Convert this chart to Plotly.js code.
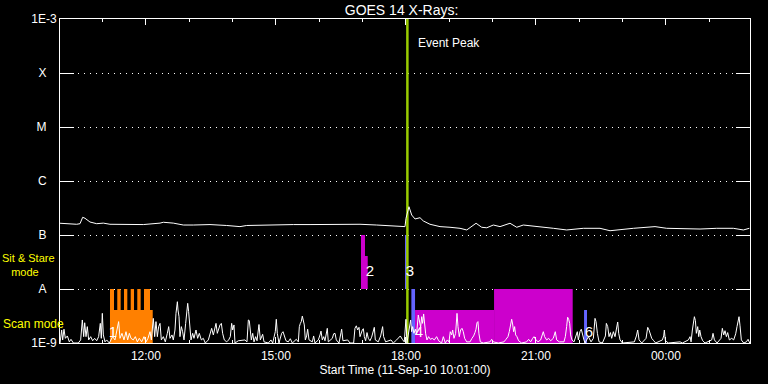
<!DOCTYPE html>
<html>
<head>
<meta charset="utf-8">
<script src="https://cdn.plot.ly/plotly-3.0.1.min.js"></script>
<style>html,body{margin:0;padding:0;background:#000;}#chart{width:768px;height:384px;}</style>
</head>
<body>
<div id="chart"></div>
<script>
// ---- DATA (time = minutes after 2010-09-11 10:01 UT) ----
const goesMin = [0,9.2,23.1,27.7,31.4,34.6,41.5,50.8,60,69.2,92.3,115.4,138.5,143.1,156.9,170.8,184.6,207.7,230.8,249.2,258.5,276.9,300,323.1,346.2,369.2,392.3,415.4,438.5,461.5,477.7,
  479.1,483.2,487,491.6,498.5,503.1,512.3,526.2,540,553.9,563.2,570.1,576.1,583.9,590.9,600,609.3,623.1,632.4,641.5,655.4,669.2,683.1,701.6,724.6,747.7,761.6,793.9,823.9,840.1,863.1,886.2,909.3,932.3,946.2,954.5];
const goesFlux = [1.65e-7,1.62e-7,1.58e-7,1.62e-7,2.13e-7,2.04e-7,1.74e-7,1.62e-7,1.66e-7,1.58e-7,1.58e-7,1.56e-7,1.66e-7,1.72e-7,1.66e-7,1.53e-7,1.53e-7,1.56e-7,1.50e-7,1.43e-7,1.50e-7,1.53e-7,1.56e-7,1.56e-7,1.56e-7,1.58e-7,1.58e-7,1.58e-7,1.53e-7,1.47e-7,1.43e-7,
  2.04e-7,3.34e-7,2.34e-7,1.98e-7,2.09e-7,1.82e-7,1.58e-7,1.43e-7,1.39e-7,1.33e-7,1.24e-7,1.43e-7,1.65e-7,1.39e-7,1.36e-7,1.53e-7,1.43e-7,1.65e-7,1.39e-7,1.53e-7,1.47e-7,1.39e-7,1.33e-7,1.24e-7,1.33e-7,1.33e-7,1.20e-7,1.33e-7,1.43e-7,1.33e-7,1.29e-7,1.29e-7,1.33e-7,1.33e-7,1.24e-7,1.33e-7];

// low-level spiky series, values in units of 1e-9 W/m^2
const lowMin = [0,2.3,3.7,5.5,7.4,10.2,12.9,15.2,18.5,25.4,28.6,30.9,32.8,34.2,36,37.8,39.7,42.5,45.2,48,50.8,53.5,55.8,57.2,58.6,60,62.3,64.6,68.3,72.9,76.1,79.4,81.2,83.1,85.8,88.6,91.4,93.7,96,98.3,101.5,104.3,107.1,109.8,113.1,116.3,119.1,121.8,124.6,126.5,129.2,131.1,132.9,134.8,136.6,138.5,140.3,143.1,145.8,148.6,150.5,152.3,155.1,156.9,159.2,160.6,161.5,162.5,163.4,164.8,166.1,168,169.8,171.7,174,175.4,176.8,178.1,179.5,181.4,183.7,185.5,188.3,190.6,192.9,195.7,198.4,201.2,205.4,207.7,210,212.3,214.6,216,217.8,219.7,221.5,223.4,225.2,227.5,230.8,233.5,235.8,237.7,239.1,240.9,
  242.3,246.9,256.1,258.9,260.8,262.1,263.5,264.9,266.8,268.6,270.9,272.8,275.5,277.4,280.6,282.5,288.5,292.1,294.5,296.8,298.1,299.5,300.9,303.2,306.9,308.8,310.6,312.9,316.1,318.9,321.7,327.2,330,331.4,332.8,334.1,335.5,336.9,338.3,339.7,341.5,342.9,344.8,349.4,351.2,353.1,357.7,360,361.4,363.2,365.1,366.9,370.1,371.5,377.1,378.9,380.8,382.6,386.3,389.1,390,391.8,398.3,401.5,406.6,408.4,410.3,412.1,414,415.4,417.2,418.6,420,421.4,423.2,425.1,426.9,429.2,431.5,433.4,435.2,436.6,440.7,444,445.4,446.7,448.1,450.9,458.3,461.5,466.1,468.9,471.2,474,476.7,479,480.4,
  485.5,486.9,488.3,490.1,492,493.8,496.1,497.5,499.4,500.8,502.1,503.5,504.9,506.3,508.1,510.4,512.8,515.5,518.3,521.5,524.3,528.4,530.8,533.5,536.3,538.6,540.4,542.3,543.7,545.5,547.8,549.7,551.1,552.9,554.7,556.6,558.4,560.3,563.1,567.7,570.4,572.7,574.6,576,577.4,578.7,580.1,582,586.1,595.4,597.7,600,606.9,614.7,617.5,620.3,622.1,624,625.4,626.7,628.1,629.5,630.9,632.7,635,639.2,646.1,648.9,651.7,654.4,656.3,658.6,661.8,665.5,667.8,669.2,671,673.8,676.6,679.4,683,685.8,687.7,691.4,697.8,699.7,701.5,702.9,704.3,705.7,707,708.9,711.7,714.4,716.3,717.7,720,721.8,723.7,725.5,
  727,731.6,735.3,738.5,740.8,742.2,744.1,746.4,751,753.3,755.2,756.5,758.4,760.2,762.1,763.9,766.2,768.5,770.8,772.2,773.6,775.5,778.7,795.3,798.1,799.9,801.8,805.5,811.5,813.8,815.6,817.5,819.3,822.1,824.8,834.1,835.9,836.8,838.2,842.4,858.5,861.8,870.1,872.4,873.8,875.6,877,878.4,879.8,881.1,883,884.4,885.8,887.6,889.9,893.1,902.4,904.2,906.1,909.8,915.3,917.1,919,920.8,922.7,924.5,926.8,930.1,932.8,935.6,937.4,938.8,940.2,941.6,943.4,946.7,950.4,952.7,955];
const lowFlux_n = [1.0,1.74,1.14,1.8,1.22,1.35,1.05,1.17,1.0,1.0,1.14,2.67,1.31,2.37,1.31,2.01,1.14,1.31,1.1,1.22,1.1,1.31,2.31,1.22,3.54,1.41,1.05,1.14,1.0,1.31,1.14,1.74,2.49,1.22,1.51,1.14,1.62,1.14,1.51,1.22,1.14,1.31,1.05,1.22,1.05,1.31,1.05,1.22,1.62,1.14,2.86,1.31,2.49,1.31,2.01,2.31,1.14,1.31,1.05,1.51,2.01,1.22,1.41,1.14,1.74,3.54,5.43,5.82,4.08,3.07,1.31,2.01,1.62,1.14,2.31,3.54,5.43,3.8,2.31,1.14,1.51,1.22,1.74,1.22,1.51,1.14,1.22,1.0,1.14,1.51,1.87,1.41,1.87,2.31,1.51,1.87,2.16,2.31,1.51,1.14,1.05,1.14,1.31,2.31,1.74,2.16,
  1.0,1.1,1.14,1.05,2.67,2.6,1.51,1.14,1.51,1.05,1.31,1.1,2.2,1.14,1.45,1.05,1.0,1.14,1.0,1.31,1.62,2.75,1.51,1.0,1.51,1.62,1.31,1.1,1.05,1.2,1.0,1.17,1.05,2.01,2.31,2.49,3.15,2.37,2.16,1.14,1.35,1.8,1.14,1.05,1.35,1.0,1.14,1.41,1.66,1.14,1.31,1.1,1.87,1.05,1.22,1.48,1.51,1.14,1.0,1.56,1.8,1.1,1.14,1.0,1.0,1.87,2.08,1.74,1.95,1.31,1.56,1.74,1.84,1.31,1.1,1.56,1.22,1.1,1.28,1.56,1.95,1.14,1.05,1.35,1.74,2.01,1.31,1.05,1.14,1.0,1.14,1.28,1.35,1.17,1.05,2.75,1.0,
  2.67,1.62,2.01,1.51,1.8,1.48,3.3,2.6,1.95,3.07,2.31,3.45,1.95,1.48,1.14,1.31,1.17,1.22,1.14,1.31,1.1,1.0,1.31,1.0,1.14,1.05,1.62,1.41,1.74,1.22,1.51,3.54,2.01,1.31,1.74,1.87,1.62,1.22,1.05,1.05,1.22,1.35,1.56,1.8,2.37,2.49,1.48,1.05,1.0,1.05,1.17,1.05,1.0,1.05,1.17,1.31,1.62,2.31,2.75,2.25,1.62,2.01,1.41,1.31,1.1,1.0,1.05,1.17,1.05,1.22,1.31,1.17,1.05,1.14,1.41,1.62,1.31,1.14,1.22,1.1,1.22,1.62,1.14,1.05,1.05,1.31,2.01,3.0,2.75,2.31,1.41,1.14,1.05,1.35,1.62,1.14,1.62,1.8,1.31,1.14,
  1.0,1.31,1.05,1.22,2.86,2.49,1.51,1.05,1.0,1.14,1.35,2.31,2.01,1.31,1.56,1.22,1.62,1.31,2.01,2.45,1.51,1.14,1.0,1.05,1.35,1.74,1.14,1.0,1.22,1.95,1.74,1.35,1.22,1.1,1.0,1.14,1.35,1.74,1.1,1.0,1.05,1.0,1.14,1.31,1.05,1.74,2.31,3.07,2.6,1.51,2.01,1.31,1.74,1.31,1.1,1.0,1.14,1.51,1.14,1.0,1.22,1.87,1.41,1.69,1.31,1.56,1.14,1.22,1.14,1.48,2.01,2.49,3.07,2.08,1.14,1.0,1.05,1.17,1.0];

// observation blocks
const blkStart = [69.2, 69.2, 79.3, 88.6, 97.9, 107.0, 116.3, 416.8, 422.3, 477.7, 480.1, 486.5, 491.6, 601.0, 725.6];
const blkEnd   = [128.4, 74.8, 84.0, 93.2, 102.5, 111.7, 124.6, 422.3, 426.1, 480.1, 481.5, 491.6, 601.0, 709.9, 729.7];
const blkLow   = [1e-9, 4.08e-9, 4.08e-9, 4.08e-9, 4.08e-9, 4.08e-9, 4.08e-9, 1e-8, 1e-8, 1e-8, 1e-8, 1e-9, 1e-9, 1e-9, 1e-9];
const blkHigh  = [4.08e-9, 1e-8, 1e-8, 1e-8, 1e-8, 1e-8, 1e-8, 1e-7, 4.08e-8, 1e-7, 4.08e-8, 1e-8, 4.08e-9, 1e-8, 4.08e-9];
const blkKind  = ['o','o','o','o','o','o','o','m','m','b','m','b','m','m','b'];

const lblText = ['1','2','3','4','6'];
const lblMin  = [73.4, 429.2, 484.6, 497.1, 732.5];
const lblFlux = [1.53e-9, 2.07e-8, 2.07e-8, 1.53e-9, 1.53e-9];

const peakMin = 481;
const yTickVals = [1e-9,1e-8,1e-7,1e-6,1e-5,1e-4,1e-3];
const yTickText = ['1E-9','A\u00a0\u00a0\u00a0','B\u00a0\u00a0\u00a0','C\u00a0\u00a0\u00a0','M\u00a0\u00a0\u00a0','X\u00a0\u00a0\u00a0','1E-3'];
const xEndMin = 955.4;

// ---- helpers ----
const T0 = Date.UTC(2010, 8, 11, 10, 1, 0);
function t(min){ const d = new Date(T0 + min*60000); return d.toISOString().slice(0,19).replace('T',' '); }
const kindColor = {o:'#ff8000', m:'#cc00cc', b:'#6464ff'};
const FONT = 'Liberation Sans, Arial, sans-serif';

const traces = [];
for (let i = 0; i < blkStart.length; i++) {
  const a = t(blkStart[i]), b = t(blkEnd[i]);
  traces.push({type:'scatter', mode:'lines', x:[a,b,b,a,a], y:[blkLow[i],blkLow[i],blkHigh[i],blkHigh[i],blkLow[i]],
    fill:'toself', fillcolor:kindColor[blkKind[i]], line:{width:0, color:kindColor[blkKind[i]]}, hoverinfo:'skip'});
}
traces.push({type:'scatter', mode:'lines', x:[t(peakMin), t(peakMin)], y:[1e-9, 1e-3], line:{color:'#99cc00', width:2.5}});
traces.push({type:'scatter', mode:'lines', x:lowMin.map(t), y:lowFlux_n.map(v=>v*1e-9), line:{color:'#ffffff', width:1}});
traces.push({type:'scatter', mode:'lines', x:goesMin.map(t), y:goesFlux, line:{color:'#ffffff', width:1}});
traces.push({type:'scatter', mode:'text', x:lblMin.map(t), y:lblFlux, text:lblText, textfont:{family:FONT, size:15, color:'#ffffff'}});

const layout = {
  width:768, height:384,
  paper_bgcolor:'#000', plot_bgcolor:'#000',
  margin:{l:60, r:18, t:19, b:41, pad:0},
  showlegend:false,
  font:{family:FONT, color:'#ffffff', size:12},
  title:{text:'GOES 14 X-Rays:', font:{family:FONT, size:14, color:'#fff'}, xref:'paper', x:0.495, xanchor:'center', yref:'container', y:0.974, yanchor:'middle'},
  xaxis:{type:'date', range:[t(0), t(xEndMin)], tick0:'2010-09-11 00:00', dtick:3*3600000, tickformat:'%H:%M',
    ticks:'inside', ticklen:6, tickcolor:'#fff', tickwidth:1, showline:true, linecolor:'#fff', linewidth:1, mirror:'ticks',
    showgrid:false, zeroline:false, tickfont:{family:FONT, size:12, color:'#fff'}, ticklabelstandoff:2,
    minor:{dtick:3600000, ticks:'inside', ticklen:3, tickcolor:'#fff', showgrid:false},
    title:{text:'Start Time (11-Sep-10 10:01:00)', font:{family:FONT, size:12, color:'#fff'}, standoff:0}},
  yaxis:{type:'log', range:[-9,-3], tickvals:yTickVals, ticktext:yTickText,
    ticks:'inside', ticklen:14, tickcolor:'#fff', tickwidth:1, showline:true, linecolor:'#fff', linewidth:1, mirror:'ticks',
    showgrid:true, gridcolor:'#fff', gridwidth:1, griddash:'1px,5px', zeroline:false,
    tickfont:{family:FONT, size:12, color:'#fff'}},
  annotations:[
    {xref:'x', yref:'y', x:t(peakMin), y:-3.444, text:'Event Peak', showarrow:false, xanchor:'left', xshift:9, font:{family:FONT, size:12, color:'#fff'}},
    {xref:'paper', yref:'y', x:0, xshift:-60, xanchor:'left', align:'left', y:-7.555, yanchor:'middle', text:'Sit & Stare<br>\u00a0\u00a0\u00a0mode', showarrow:false, font:{family:FONT, size:11, color:'#ffff00'}},
    {xref:'paper', yref:'y', x:0, xshift:-59, xanchor:'left', y:-8.654, text:'Scan mode', showarrow:false, font:{family:FONT, size:12, color:'#ffff00'}}
  ]
};
Plotly.newPlot('chart', traces, layout, {displayModeBar:false, staticPlot:true});
</script>
</body>
</html>
